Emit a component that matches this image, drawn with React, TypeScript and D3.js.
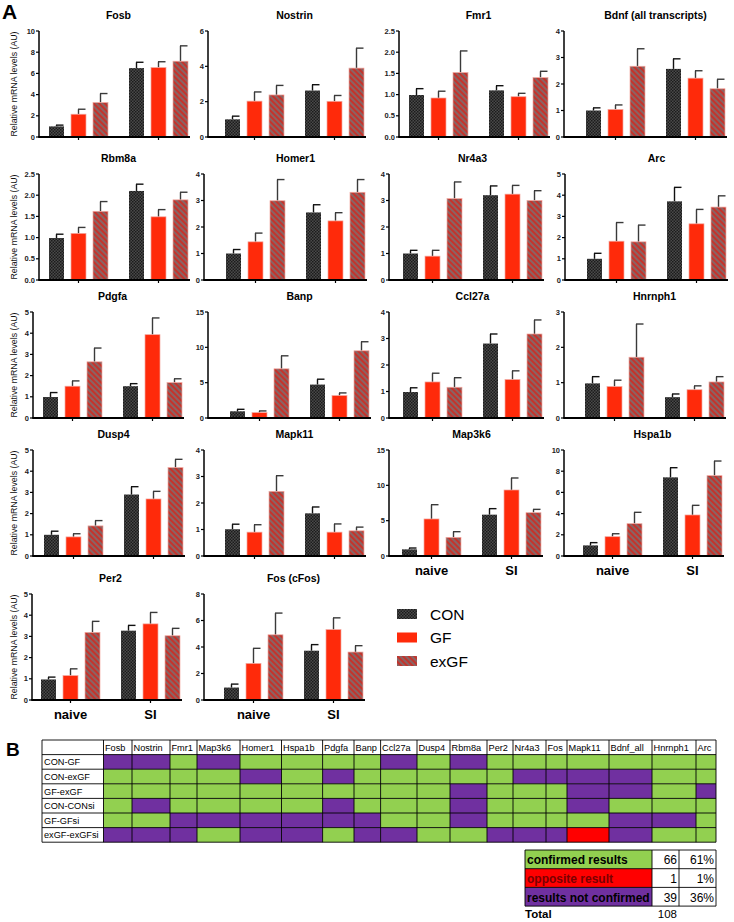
import React from 'react';
import * as d3 from 'd3';

// ---------- DATA ----------
const groups = ['naive', 'SI'];
const series = ['CON', 'GF', 'exGF'];

const panelTitles = [
  'Fosb', 'Nostrin', 'Fmr1', 'Bdnf (all transcripts)',
  'Rbm8a', 'Homer1', 'Nr4a3', 'Arc',
  'Pdgfa', 'Banp', 'Ccl27a', 'Hnrnph1',
  'Dusp4', 'Mapk11', 'Map3k6', 'Hspa1b',
  'Per2', 'Fos (cFos)',
];

// means: naive CON, GF, exGF, SI CON, GF, exGF ; errTop = mean + SEM
const fosbMean = [1.0, 2.15, 3.25, 6.5, 6.55, 7.15];
const fosbErr = [1.12, 2.62, 4.1, 7.05, 7.1, 8.6];
const nostrinMean = [1.0, 2.03, 2.38, 2.63, 2.02, 3.9];
const nostrinErr = [1.18, 2.55, 2.92, 2.96, 2.35, 5.03];
const fmr1Mean = [0.99, 0.92, 1.52, 1.1, 0.95, 1.4];
const fmr1Err = [1.14, 1.08, 2.03, 1.21, 1.03, 1.55];
const bdnfMean = [1.0, 1.04, 2.67, 2.57, 2.22, 1.82];
const bdnfErr = [1.1, 1.21, 3.33, 2.95, 2.5, 2.18];
const rbm8aMean = [0.99, 1.1, 1.62, 2.1, 1.49, 1.89];
const rbm8aErr = [1.08, 1.24, 1.85, 2.26, 1.66, 2.07];
const homer1Mean = [1.0, 1.44, 2.99, 2.55, 2.23, 3.31];
const homer1Err = [1.15, 1.77, 3.79, 2.84, 2.54, 3.79];
const nr4a3Mean = [1.0, 0.9, 3.07, 3.2, 3.24, 3.0];
const nr4a3Err = [1.12, 1.12, 3.7, 3.55, 3.57, 3.37];
const arcMean = [1.0, 1.83, 1.8, 3.71, 2.65, 3.44];
const arcErr = [1.26, 2.71, 2.59, 4.37, 3.33, 3.97];
const pdgfaMean = [0.99, 1.5, 2.65, 1.5, 3.93, 1.67];
const pdgfaErr = [1.2, 1.75, 3.3, 1.62, 4.72, 1.85];
const banpMean = [0.95, 0.76, 6.96, 4.73, 3.17, 9.51];
const banpErr = [1.23, 1.0, 8.8, 5.49, 3.55, 10.79];
const ccl27aMean = [0.98, 1.36, 1.16, 2.81, 1.45, 3.17];
const ccl27aErr = [1.14, 1.69, 1.52, 3.17, 1.78, 3.7];
const hnrnph1Mean = [0.98, 0.89, 1.72, 0.59, 0.8, 1.02];
const hnrnph1Err = [1.17, 1.07, 2.66, 0.68, 0.91, 1.17];
const dusp4Mean = [1.0, 0.9, 1.42, 2.9, 2.69, 4.17];
const dusp4Err = [1.17, 1.05, 1.67, 3.27, 3.05, 4.56];
const mapk11Mean = [1.01, 0.9, 2.44, 1.61, 0.9, 0.95];
const mapk11Err = [1.2, 1.18, 3.03, 1.85, 1.21, 1.09];
const map3k6Mean = [0.94, 5.24, 2.64, 5.85, 9.34, 6.13];
const map3k6Err = [1.13, 7.26, 3.44, 6.7, 11.04, 6.6];
const hspa1bMean = [1.0, 1.82, 3.05, 7.42, 3.87, 7.58];
const hspa1bErr = [1.26, 2.1, 4.12, 8.33, 4.78, 8.96];
const per2Mean = [0.97, 1.15, 3.19, 3.27, 3.59, 3.03];
const per2Err = [1.08, 1.47, 3.71, 3.52, 4.13, 3.38];
const fosMean = [0.94, 2.76, 4.92, 3.72, 5.31, 3.62];
const fosErr = [1.2, 3.9, 6.56, 4.18, 6.2, 4.1];

const panelMeans = [
  fosbMean, nostrinMean, fmr1Mean, bdnfMean,
  rbm8aMean, homer1Mean, nr4a3Mean, arcMean,
  pdgfaMean, banpMean, ccl27aMean, hnrnph1Mean,
  dusp4Mean, mapk11Mean, map3k6Mean, hspa1bMean,
  per2Mean, fosMean,
];
const panelErrs = [
  fosbErr, nostrinErr, fmr1Err, bdnfErr,
  rbm8aErr, homer1Err, nr4a3Err, arcErr,
  pdgfaErr, banpErr, ccl27aErr, hnrnph1Err,
  dusp4Err, mapk11Err, map3k6Err, hspa1bErr,
  per2Err, fosErr,
];
// y axis max and tick step per panel
const yMaxes = [10, 6, 2.5, 4, 2.5, 4, 4, 5, 5, 15, 4, 3, 5, 4, 15, 10, 5, 8];
const ySteps = [2, 2, 0.5, 1, 0.5, 1, 1, 1, 1, 5, 1, 1, 1, 1, 5, 2, 1, 2];

// Panel B table
const tableCols = ['Fosb', 'Nostrin', 'Fmr1', 'Map3k6', 'Homer1', 'Hspa1b', 'Pdgfa', 'Banp', 'Ccl27a',
  'Dusp4', 'Rbm8a', 'Per2', 'Nr4a3', 'Fos', 'Mapk11', 'Bdnf_all', 'Hnrnph1', 'Arc'];
const tableRows = ['CON-GF', 'CON-exGF', 'GF-exGF', 'CON-CONsi', 'GF-GFsi', 'exGF-exGFsi'];
// C = confirmed, N = not confirmed, O = opposite
const tableCodes = [
  'NNCNCCCCNCNCCCCCCC',
  'CCCCNCNCCCCCNNNNCC',
  'CCCCCCCCCCNCCCNNCN',
  'CNCCCCNCCCNCCCNCCC',
  'CCNNNNNNCCNCCCCNNC',
  'NNNCNNCNNCCNNNONCC',
];
const summaryLabels = ['confirmed results', 'opposite result', 'results not confirmed'];
const summaryCounts = [66, 1, 39];
const summaryPct = ['61%', '1%', '36%'];
const totalCount = 108;

// ---------- LAYOUT ----------
const rowTops = [31, 174, 312, 450, 594];
const plotH = 106;
const axisXs = [39, 208, 399, 564, 39, 204, 389, 565, 33, 208, 389, 564, 33, 204, 389, 564, 32, 204];
const barX0s = [49, 225, 409, 586, 49, 226, 403, 587, 43, 230, 403, 585, 44, 225, 402, 583, 41, 224];
const groupLabelPanels = [14, 15, 16, 17];
const colEdges = [42, 103.5, 132, 170, 197, 240, 281.5, 322.6, 354, 380.6, 417, 450, 487, 513, 546, 567, 609, 652, 696, 716];
const tableTop = 740;
const tableRowH = 14.6;

const colorOf: Record<string, string> = { C: '#92D050', N: '#7030A0', O: '#FF0000' };
const fillOf: Record<string, string> = { CON: 'url(#conPat)', GF: '#FF2A0A', exGF: 'url(#exPat)' };
const sans = 'Liberation Sans, Arial, sans-serif';

function Panel({ i }: { i: number }) {
  const row = Math.floor(i / 4);
  const col = i % 4;
  const top = rowTops[row];
  const bottom = top + plotH;
  const ax = axisXs[i];
  const bx = barX0s[i];
  const y = d3.scaleLinear().domain([0, yMaxes[i]]).range([bottom, top]);
  const xg = d3.scaleBand().domain(groups).range([bx, bx + 139]).paddingInner(21 / 80).paddingOuter(0);
  const xs = d3.scaleBand().domain(series).range([0, xg.bandwidth()]).paddingInner(7 / 22);
  const ticks = d3.range(0, yMaxes[i] + ySteps[i] / 2, ySteps[i]);
  const fmt = ySteps[i] < 1 ? d3.format('.1f') : d3.format('d');
  const means = panelMeans[i];
  const errs = panelErrs[i];
  const bw = xs.bandwidth();
  return (
    <g>
      <text x={bx + 69.5} y={top - 12} textAnchor="middle" fontFamily={sans} fontWeight="bold" fontSize={10.5}>{panelTitles[i]}</text>
      {groups.map((g, gi) => series.map((s, si) => {
        const k = gi * 3 + si;
        const x0 = (xg(g) as number) + (xs(s) as number);
        const cx = x0 + bw / 2;
        return (
          <g key={g + s}>
            <line x1={cx} x2={cx} y1={y(means[k])} y2={y(errs[k])} stroke={s === 'CON' ? '#111' : '#3a3a3a'} strokeWidth={1.4} />
            <line x1={cx - 0.5} x2={cx + 7} y1={y(errs[k])} y2={y(errs[k])} stroke={s === 'CON' ? '#111' : '#3a3a3a'} strokeWidth={1.4} />
            <rect x={x0} y={y(means[k])} width={bw} height={bottom - y(means[k])} fill={fillOf[s]}
              stroke={s === 'CON' ? 'none' : '#f2a8a0'} strokeWidth={s === 'CON' ? 0 : 0.7} />
          </g>
        );
      }))}
      <line x1={ax} x2={ax} y1={top} y2={bottom} stroke="#000" strokeWidth={1.5} />
      <line x1={ax - 0.75} x2={bx + 141} y1={bottom} y2={bottom} stroke="#000" strokeWidth={1.8} />
      {ticks.map(t => (
        <g key={t}>
          <line x1={ax - 3} x2={ax} y1={y(t)} y2={y(t)} stroke="#000" strokeWidth={1.2} />
          <text x={ax - 4} y={y(t)} dy="0.35em" textAnchor="end" fontFamily={sans} fontWeight="bold" fontSize={7.5} fill="#222">{fmt(t)}</text>
        </g>
      ))}
      {groups.map(g => {
        const cx = (xg(g) as number) + xg.bandwidth() / 2;
        return <line key={g} x1={cx} x2={cx} y1={bottom} y2={bottom + 3} stroke="#000" strokeWidth={1.2} />;
      })}
      {groupLabelPanels.includes(i) && groups.map(g => {
        const cx = (xg(g) as number) + xg.bandwidth() / 2;
        return <text key={g} x={cx} y={bottom + 19} textAnchor="middle" fontFamily={sans} fontWeight="bold" fontSize={13}>{g}</text>;
      })}
      {col === 0 && (
        <text transform={`translate(17, ${(top + bottom) / 2}) rotate(-90)`} textAnchor="middle" fontFamily={sans} fontSize={8.8} fill="#111">
          Relative mRNA levels (AU)
        </text>
      )}
    </g>
  );
}

export default function App() {
  const nCols = tableCols.length;
  const tableBottom = tableTop + tableRowH * (tableRows.length + 1);
  const sx0 = 525, sx1 = 652, sx2 = 679, sx3 = 716;
  const sTop = 850, sRowH = 18.7;
  return (
    <svg width={734} height={922} style={{ position: 'absolute', left: 0, top: 0, background: '#fff' }}>
      <defs>
        <pattern id="conPat" width={3} height={3} patternUnits="userSpaceOnUse">
          <rect width={3} height={3} fill="#4a4a4a" />
          <rect width={1.5} height={1.5} fill="#1c1c1c" />
          <rect x={1.5} y={1.5} width={1.5} height={1.5} fill="#1c1c1c" />
        </pattern>
        <pattern id="exPat" width={4} height={4} patternUnits="userSpaceOnUse" patternTransform="rotate(-45)">
          <rect width={4} height={4} fill="#8a6464" />
          <rect width={2} height={4} fill="#c5332b" />
        </pattern>
      </defs>

      <text x={2} y={19} fontFamily={sans} fontWeight="bold" fontSize={21}>A</text>
      {panelTitles.map((_, i) => <Panel key={i} i={i} />)}

      {/* legend */}
      {series.map((s, i) => (
        <g key={s}>
          <rect x={397} y={609 + i * 23.5} width={20} height={10} fill={fillOf[s]} />
          <text x={430} y={619.5 + i * 23.5} fontFamily={sans} fontSize={15.5}>{s}</text>
        </g>
      ))}

      {/* Panel B */}
      <text x={6} y={756} fontFamily={sans} fontWeight="bold" fontSize={19}>B</text>
      {tableCodes.map((codes, r) => codes.split('').map((c, k) => (
        <rect key={r + '-' + k} x={colEdges[k + 1]} y={tableTop + tableRowH * (r + 1)}
          width={colEdges[k + 2] - colEdges[k + 1]} height={tableRowH} fill={colorOf[c]} />
      )))}
      {d3.range(tableRows.length + 2).map(r => (
        <line key={'h' + r} x1={colEdges[0]} x2={colEdges[nCols + 1]} y1={tableTop + r * tableRowH} y2={tableTop + r * tableRowH} stroke="#000" strokeWidth={0.9} />
      ))}
      {colEdges.map((cx, k) => (
        <line key={'v' + k} x1={cx} x2={cx} y1={tableTop} y2={tableBottom} stroke="#000" strokeWidth={0.9} />
      ))}
      {tableCols.map((c, k) => (
        <text key={c} x={colEdges[k + 1] + 1.5} y={tableTop + tableRowH - 3.8} fontFamily={sans} fontSize={9.2}>{c}</text>
      ))}
      {tableRows.map((r, k) => (
        <text key={r} x={colEdges[0] + 2} y={tableTop + tableRowH * (k + 2) - 3.8} fontFamily={sans} fontSize={9.2}>{r}</text>
      ))}

      {/* summary table */}
      {summaryLabels.map((l, k) => {
        const yy = sTop + k * sRowH;
        const bg = ['#92D050', '#FF0000', '#7030A0'][k];
        const tc = ['#000', '#7a0000', '#000'][k];
        return (
          <g key={l}>
            <rect x={sx0} y={yy} width={sx1 - sx0} height={sRowH} fill={bg} />
            <text x={sx0 + 2} y={yy + sRowH - 4.5} fontFamily={sans} fontWeight="bold" fontSize={12} fill={tc}>{l}</text>
            <text x={sx2 - 2} y={yy + sRowH - 4.5} textAnchor="end" fontFamily={sans} fontSize={12}>{summaryCounts[k]}</text>
            <text x={sx3 - 2} y={yy + sRowH - 4.5} textAnchor="end" fontFamily={sans} fontSize={12}>{summaryPct[k]}</text>
          </g>
        );
      })}
      {d3.range(4).map(k => (
        <line key={'sh' + k} x1={sx0} x2={sx3} y1={sTop + k * sRowH} y2={sTop + k * sRowH} stroke="#000" strokeWidth={0.9} />
      ))}
      {[sx0, sx1, sx2, sx3].map((xx, k) => (
        <line key={'sv' + k} x1={xx} x2={xx} y1={sTop} y2={sTop + 3 * sRowH} stroke="#000" strokeWidth={0.9} />
      ))}
      <text x={sx0} y={918} fontFamily={sans} fontWeight="bold" fontSize={11.5}>Total</text>
      <text x={sx2 - 2} y={918} textAnchor="end" fontFamily={sans} fontSize={11.5}>{totalCount}</text>
    </svg>
  );
}
